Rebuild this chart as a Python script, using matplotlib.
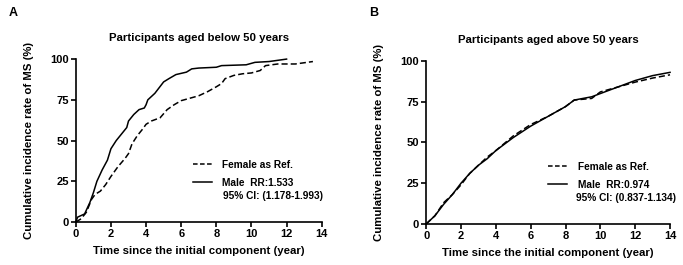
import matplotlib
matplotlib.use("Agg")
import matplotlib.pyplot as plt
from matplotlib.lines import Line2D

plt.rcParams['font.family'] = ['Liberation Sans', 'DejaVu Sans']
plt.rcParams['font.weight'] = 'bold'

# panel A: participants aged below 50 years
a_male_t = [0, 0.1, 0.3, 0.5, 0.8, 1.0, 1.2, 1.5, 1.8, 2.0, 2.3, 2.6, 2.9, 3.0, 3.3, 3.6,
            3.9, 4.0, 4.1, 4.5, 5.0, 5.3, 5.7, 6.3, 6.6, 7.0, 8.0, 8.3, 9.7, 10.2, 11.0, 12.0]
a_male_y = [0, 3, 4, 5, 12, 18, 25, 32, 38, 45, 50, 54, 58, 62, 66, 69,
            70, 72, 75, 79, 86, 88, 90.5, 92, 94, 94.5, 95, 96, 96.5, 98, 98.5, 100]
a_fem_t = [0, 0.3, 0.6, 0.9, 1.1, 1.4, 1.7, 2.0, 2.4, 2.8, 3.0, 3.2, 3.5, 3.8, 4.0, 4.3,
           4.8, 5.2, 5.6, 6.0, 6.5, 7.0, 7.5, 8.0, 8.3, 8.5, 9.0, 9.5, 10.0, 10.5, 10.8,
           11.5, 12.5, 13.5]
a_fem_y = [0, 2, 6, 14, 17, 19, 23, 28, 34, 39, 42, 48, 53, 57, 60, 62,
           64, 69, 72, 74.5, 76, 77.5, 80, 83, 85, 88, 90, 91, 91.5, 93, 96,
           97, 97, 98.5]

# panel B: participants aged above 50 years
b_male_t = [0, 0.5, 1, 1.5, 2, 2.5, 3, 3.5, 4, 5, 6, 7, 8, 8.5, 9.5, 10, 11, 12, 13, 14]
b_male_y = [0, 5, 12, 18, 25, 31, 36, 40, 45, 53, 60, 66, 72, 76, 78, 80, 84, 88, 91, 93]
b_fem_t = [0, 0.5, 1, 1.5, 2, 2.5, 3, 3.5, 4, 5, 6, 7, 8, 8.5, 9.5, 10, 11, 12, 13, 14]
b_fem_y = [0, 5, 13, 18, 24, 31, 36, 41, 45, 54, 61, 66, 72, 76, 77, 81, 84, 87, 89.5, 91.5]

panels = [
    ("A", "Participants aged below 50 years", a_fem_t, a_fem_y, a_male_t, a_male_y,
     "Male  RR:1.533", "95% CI: (1.178-1.993)"),
    ("B", "Participants aged above 50 years", b_fem_t, b_fem_y, b_male_t, b_male_y,
     "Male  RR:0.974", "95% CI: (0.837-1.134)"),
]
axes_pos = [[0.111, 0.162, 0.360, 0.615], [0.624, 0.155, 0.357, 0.615]]
letter_pos = [(0.012, 0.95), (0.540, 0.95)]
legend_anchor = [(0.476, 0.382), (0.50, 0.382)]
ci_pos = [(0.598, 0.160), (0.615, 0.160)]

fig = plt.figure(figsize=(6.83, 2.65), dpi=100)

for i, (letter, title, ft, fy, mt, my, rr, ci) in enumerate(panels):
    ax = fig.add_axes(axes_pos[i])
    ax.plot(ft, fy, color='black', lw=1.1, ls=(0, (4, 2)), clip_on=False)
    ax.plot(mt, my, color='black', lw=1.1, clip_on=False)
    ax.set_xlim(0, 14)
    ax.set_ylim(0, 100)
    ax.set_xticks(range(0, 15, 2))
    ax.set_yticks([0, 25, 50, 75, 100])
    for s in ['top', 'right']:
        ax.spines[s].set_visible(False)
    for s in ['left', 'bottom']:
        ax.spines[s].set_linewidth(1.2)
    ax.tick_params(direction='out', length=3.5, width=1.2, labelsize=8, pad=1.5)
    ax.set_title(title, fontsize=8.2, fontweight='bold', pad=13)
    ax.set_xlabel("Time since the initial component (year)", fontsize=8.2, fontweight='bold', labelpad=5)
    ax.set_ylabel("Cumulative incidence rate of MS (%)", fontsize=8.2, fontweight='bold', labelpad=12)
    handles = [Line2D([], [], color='black', lw=1.1, ls=(0, (3, 1.6))),
               Line2D([], [], color='black', lw=1.1)]
    ax.legend(handles, ["Female as Ref.", rr], loc='upper left',
              bbox_to_anchor=legend_anchor[i], frameon=False, fontsize=7.3,
              borderpad=0, borderaxespad=0,
              handlelength=1.9, handletextpad=1.0, labelspacing=0.8)
    ax.text(ci_pos[i][0], ci_pos[i][1], ci, transform=ax.transAxes, fontsize=7.3,
            fontweight='bold', ha='left', va='center')
    fig.text(letter_pos[i][0], letter_pos[i][1], letter, fontsize=9, fontweight='bold',
             ha='left', va='center')

fig.savefig("out.png", dpi=100)
